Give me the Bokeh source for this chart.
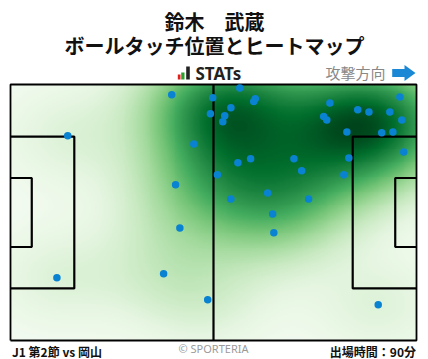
import numpy as np
from bokeh.plotting import figure
from bokeh.models import Range1d, LinearColorMapper
from bokeh.palettes import Greens256
from bokeh.core.properties import value
from bokeh.embed import file_html
from bokeh.resources import INLINE

# ---------------- data ----------------
title_name = "鈴木　武蔵"
title_sub = "ボールタッチ位置とヒートマップ"
match_label = "J1 第2節 vs 岡山"
minutes_label = "出場時間：90分"
credit_label = "© SPORTERIA"
direction_label = "攻撃方向"

# ball-touch positions (metres; pitch 105 x 68, attacking to the right)
touch_x = [41.7, 52.3, 51.7, 14.8, 47.4, 42.7, 53.5, 59.3, 63.3, 62.9,
           57.0, 55.4, 54.9, 82.6, 100.7, 89.8, 92.7, 98.1, 81.0, 81.8,
           101.2, 87.0, 96.0, 98.9, 101.7, 58.8, 62.1, 73.3, 87.5, 75.3,
           86.2, 57.0, 66.5, 77.1, 43.8, 39.6, 51.0, 12.0, 67.8, 68.1, 95.1]
touch_y = [65.3, 64.5, 60.2, 54.4, 52.2, 41.4, 44.0, 67.1, 64.2, 63.5,
           61.8, 59.7, 58.1, 63.1, 64.7, 61.3, 60.7, 60.7, 59.5, 58.6,
           58.6, 55.4, 55.2, 55.4, 50.1, 47.2, 48.3, 48.3, 48.5, 45.1,
           44.0, 37.6, 39.2, 37.6, 29.9, 17.7, 10.8, 16.7, 33.6, 28.6, 9.5]

PITCH_L, PITCH_W = 105.0, 68.0
PEN_D, PEN_W = 16.5, 40.32
GOAL_D, GOAL_W = 5.5, 18.32

W, H = 428, 359
# frame pixel placement of pitch
PX0, PX1 = 10, 416
PY0, PY1 = 84, 340
sx = PITCH_L / (PX1 - PX0)
sy = PITCH_W / (PY1 - PY0)


def X(px):
    return (px - PX0) * sx


def Y(py):
    return PITCH_W - (py - PY0) * sy


p = figure(width=W, height=H, output_backend="svg", toolbar_location=None,
           x_range=Range1d(X(0), X(W)), y_range=Range1d(Y(H), Y(0)),
           min_border=0, min_border_left=0, min_border_right=0,
           min_border_top=0, min_border_bottom=0)
p.axis.visible = False
p.grid.visible = False
p.outline_line_color = None
p.background_fill_color = "white"
p.border_fill_color = "white"

# ---------------- heat map (KDE of touches) ----------------
xs = np.array(touch_x)
ys = np.array(touch_y)
gx = np.linspace(0, PITCH_L, 211)
gy = np.linspace(0, PITCH_W, 137)
GX, GY = np.meshgrid(gx, gy)
bwx, bwy = 12.0, 9.5
Z = np.zeros_like(GX)
for x0, y0 in zip(xs, ys):
    Z += np.exp(-((GX - x0) ** 2 / (2 * bwx ** 2) + (GY - y0) ** 2 / (2 * bwy ** 2)))
Zn = (Z / Z.max()) ** 0.8

pal = list(Greens256)


def lum(h):
    return int(h[1:3], 16) + int(h[3:5], 16) + int(h[5:7], 16)


if lum(pal[0]) < lum(pal[-1]):
    pal = pal[::-1]
mapper = LinearColorMapper(palette=pal, low=0.0, high=1.0)
p.image(image=[Zn], x=0, y=0, dw=PITCH_L, dh=PITCH_W, color_mapper=mapper)

# ---------------- pitch markings ----------------
lc = "black"
p.line([0, PITCH_L, PITCH_L, 0, 0], [0, 0, PITCH_W, PITCH_W, 0], line_color=lc, line_width=1.8)
p.line([PITCH_L / 2, PITCH_L / 2], [0, PITCH_W], line_color=lc, line_width=2.2)
cy = PITCH_W / 2
for side in (0, 1):
    def fx(d):
        return d if side == 0 else PITCH_L - d
    p.line([fx(0), fx(PEN_D), fx(PEN_D), fx(0)],
           [cy + PEN_W / 2, cy + PEN_W / 2, cy - PEN_W / 2, cy - PEN_W / 2],
           line_color=lc, line_width=2.2)
    p.line([fx(0), fx(GOAL_D), fx(GOAL_D), fx(0)],
           [cy + GOAL_W / 2, cy + GOAL_W / 2, cy - GOAL_W / 2, cy - GOAL_W / 2],
           line_color=lc, line_width=2.2)

# ---------------- touches ----------------
p.scatter(touch_x, touch_y, size=7.5, color="#0a82d2", line_color=None)

# ---------------- texts ----------------
jp = value("Noto Sans CJK JP")
p.text(x=[X(214)], y=[Y(20.5)], text=[title_name], text_font=jp, text_font_size="20px",
       text_font_style="bold", text_align="center", text_baseline="middle", text_color="#111111")
p.text(x=[X(214)], y=[Y(45.3)], text=[title_sub], text_font=jp, text_font_size="20px",
       text_font_style="bold", text_align="center", text_baseline="middle", text_color="#111111")

# STATs logo
p.quad(left=[X(177.3), X(180.7), X(185.7)], right=[X(180.0), X(184.0), X(189.3)],
       bottom=[Y(79), Y(79), Y(79)], top=[Y(74), Y(72), Y(66)],
       fill_color=["#e0201b", "#2aa12f", "#222222"], line_color=None)
p.text(x=[X(195)], y=[Y(73)], text=["STATs"], text_font=value("Noto Sans"), text_font_size="17px",
       text_font_style="bold", text_align="left", text_baseline="middle", text_color="#222222")

# attack direction
p.text(x=[X(385)], y=[Y(72)], text=[direction_label], text_font=jp, text_font_size="15px",
       text_align="right", text_baseline="middle", text_color="#888888")
p.patch([X(391.7), X(404), X(404), X(415), X(404), X(404), X(391.7)],
        [Y(68.5), Y(68.5), Y(64.5), Y(72.5), Y(80.5), Y(76.5), Y(76.5)],
        fill_color="#1a88d4", line_color=None)

# footer
p.text(x=[X(11.5)], y=[Y(350.5)], text=[match_label], text_font=jp, text_font_size="12px",
       text_font_style="bold", text_align="left", text_baseline="middle", text_color="#111111")
p.text(x=[X(213)], y=[Y(348)], text=[credit_label], text_font=value("Noto Sans"), text_font_size="11px",
       text_align="center", text_baseline="middle", text_color="#9a9a9a")
p.text(x=[X(415.5)], y=[Y(350.5)], text=[minutes_label], text_font=jp, text_font_size="12px",
       text_font_style="bold", text_align="right", text_baseline="middle", text_color="#111111")

open("out.html", "w").write(file_html(p, INLINE))
